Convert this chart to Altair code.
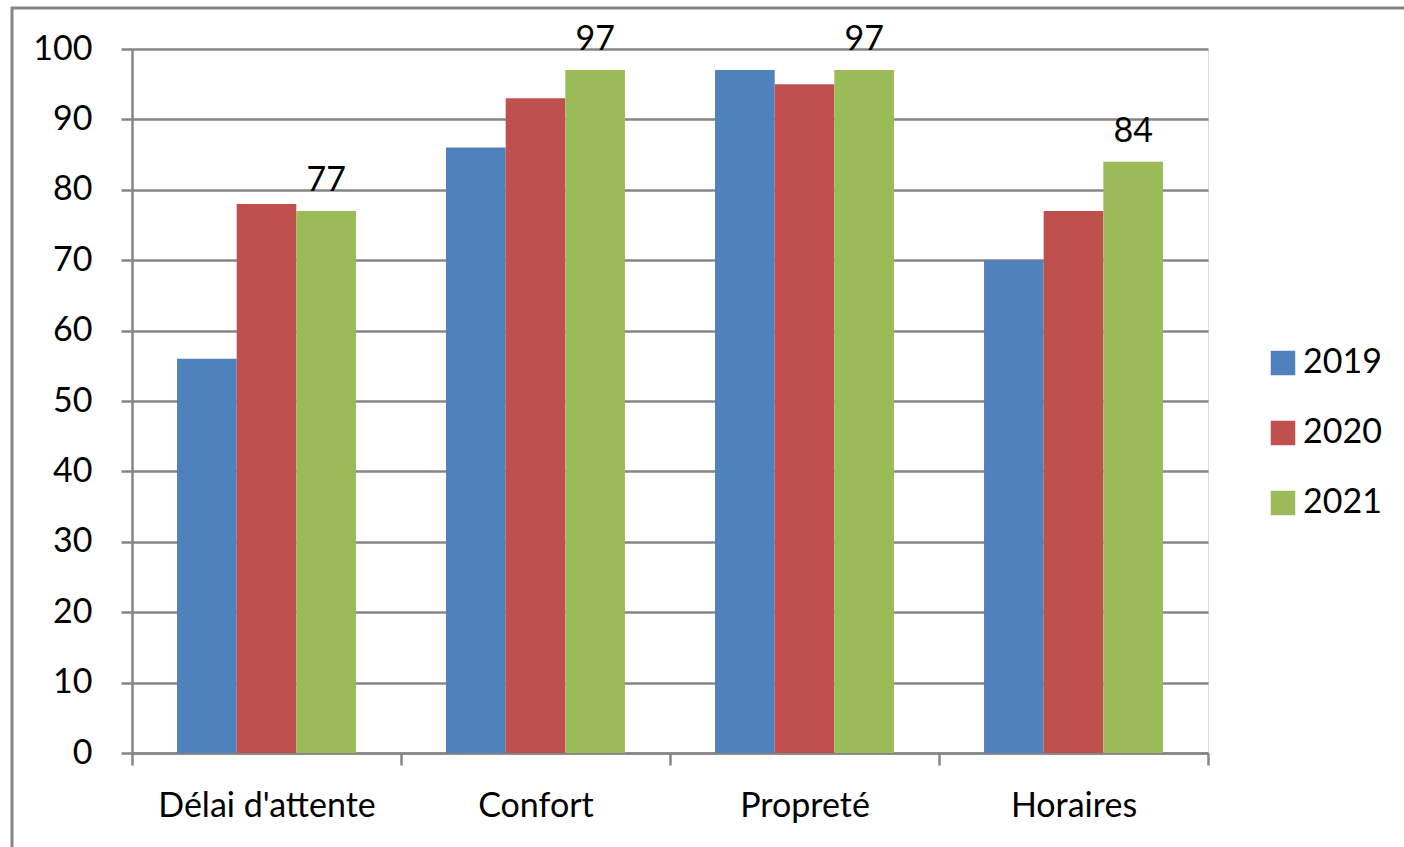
import altair as alt
import pandas as pd

# Satisfaction scores by criterion and year
categories = ["Délai d'attente", "Confort", "Propreté", "Horaires"]
years = ["2019", "2020", "2021"]
v2019 = [56, 86, 97, 70]
v2020 = [78, 93, 95, 77]
v2021 = [77, 97, 97, 84]
colors = ["#4F81BD", "#C0504D", "#9BBB59"]
y_ticks = list(range(0, 101, 10))

rows = []
for year, vals in zip(years, [v2019, v2020, v2021]):
    for cat, v in zip(categories, vals):
        rows.append({"critere": cat, "annee": year, "valeur": v})
df = pd.DataFrame(rows)

GRAY = "#868686"
FONT = "Lato"
FS = 34
W, H = 1076, 704

x_enc = alt.X(
    "critere:N",
    sort=categories,
    scale=alt.Scale(paddingInner=0, paddingOuter=0),
    axis=alt.Axis(
        title=None, labelAngle=0, tickBand="extent", grid=False,
        domainColor=GRAY, domainWidth=2.5, tickColor=GRAY, tickWidth=2.5,
        tickSize=12, labelFont=FONT, labelFontSize=FS, labelColor="black",
        labelPadding=24, labelLimit=0,
    ),
)
xoff_enc = alt.XOffset(
    "annee:N", sort=years,
    scale=alt.Scale(paddingOuter=0.755, paddingInner=0),
)
y_scale = alt.Scale(domain=[0, 100], nice=False)

bars = alt.Chart(df).mark_bar().encode(
    x=x_enc,
    xOffset=xoff_enc,
    y=alt.Y(
        "valeur:Q", scale=y_scale,
        axis=alt.Axis(
            title=None, values=y_ticks, grid=True, gridColor=GRAY, gridWidth=2.5,
            domainColor=GRAY, domainWidth=2.5, tickColor=GRAY, tickWidth=2.5,
            tickSize=11, labelFont=FONT, labelFontSize=FS, labelColor="black",
            labelPadding=29,
        ),
    ),
    color=alt.Color(
        "annee:N", sort=years,
        scale=alt.Scale(domain=years, range=colors),
        legend=alt.Legend(
            title=None, orient="none", legendX=1134, legendY=297,
            symbolType="square", symbolSize=600, symbolStrokeWidth=0,
            labelFont=FONT, labelFontSize=FS, labelColor="black",
            labelOffset=3, rowPadding=36, padding=0,
        ),
    ),
)

labels = alt.Chart(df).transform_filter(
    alt.datum.annee == "2021"
).mark_text(
    font=FONT, fontSize=FS, color="black", baseline="alphabetic", dy=-20
).encode(
    x=alt.X("critere:N", sort=categories),
    xOffset=alt.XOffset("annee:N", sort=years),
    y=alt.Y("valeur:Q", scale=y_scale),
    text=alt.Text("valeur:Q"),
)

# Outer chart-area frame
frame = alt.Chart(pd.DataFrame({"k": [0]})).mark_rect(
    fill=None, stroke=GRAY, strokeWidth=3, clip=False
).encode(
    x=alt.value(-120), x2=alt.value(W + 300),
    y=alt.value(-41), y2=alt.value(H + 300),
)

chart = alt.layer(frame, bars, labels).properties(
    width=W, height=H,
    padding={"left": 132, "top": 49, "right": 196, "bottom": 94},
    autosize=alt.AutoSizeParams(type="none"),
).configure_view(stroke=None).configure(background="white")

chart.save("out.html", embed_options={"renderer": "svg", "actions": False})
